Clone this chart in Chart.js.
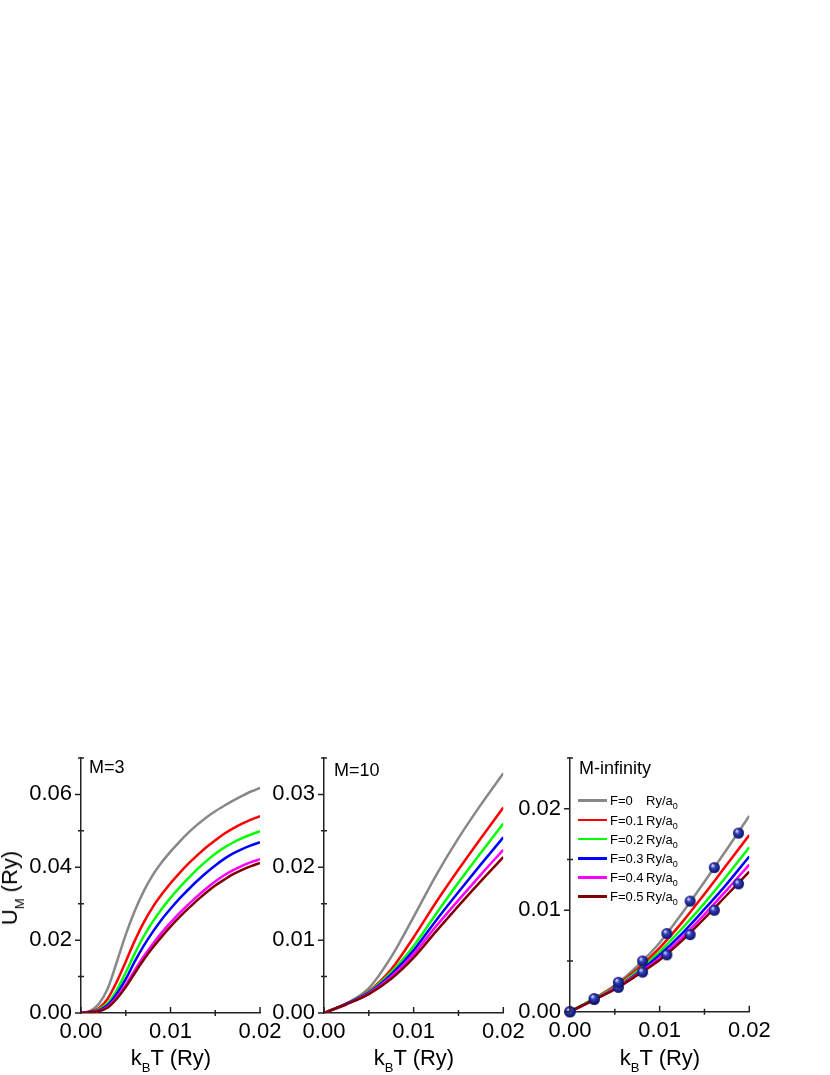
<!DOCTYPE html>
<html>
<head>
<meta charset="utf-8">
<script src="https://cdn.jsdelivr.net/npm/chart.js@4"></script>
<style>
  body { margin: 0; background: #fff; width: 830px; height: 1075px; position: relative; overflow: hidden;
         font-family: "Liberation Sans", Arial, sans-serif; color: #000; }
  canvas { position: absolute; top: 730px; }
  .lbl { position: absolute; line-height: 1; white-space: nowrap; }
  .lbl sub { vertical-align: baseline; position: relative; }
  .panel { font-size: 18px; }
  .xt { font-size: 22px; top: 1047px; transform: translateX(-50%); }
  .xt sub, .yt sub { font-size: 13px; top: 7px; }
  .yt { font-size: 22px; left: 10px; top: 888px; transform: translate(-50%, -50%) rotate(-90deg); }
  .leg { font-size: 13px; }
  .leg .f { display: inline-block; width: 36px; }
  .leg sub { font-size: 9px; top: 4px; }
  .swatch { position: absolute; width: 29px; height: 2.5px; }
</style>
</head>
<body>
<canvas id="m3" width="300" height="345" style="left:0px"></canvas>
<canvas id="m10" width="300" height="345" style="left:250px"></canvas>
<canvas id="minf" width="330" height="345" style="left:500px"></canvas>

<div class="lbl panel" style="left:89px; top:758px">M=3</div>
<div class="lbl panel" style="left:334px; top:761px">M=10</div>
<div class="lbl panel" style="left:579px; top:759px">M-infinity</div>

<div class="lbl yt">U<sub>M</sub> (Ry)</div>
<div class="lbl xt" style="left:171px">k<sub>B</sub>T (Ry)</div>
<div class="lbl xt" style="left:414px">k<sub>B</sub>T (Ry)</div>
<div class="lbl xt" style="left:660px">k<sub>B</sub>T (Ry)</div>

<div id="legend"></div>

<script>
const fields = ["F=0", "F=0.1", "F=0.2", "F=0.3", "F=0.4", "F=0.5"];
const unit = "Ry/a";
const colors = ["#888888", "#ff0000", "#00ff00", "#0000ff", "#ff00ff", "#800000"];

// M=3
const xM3 = [0, 0.001, 0.002, 0.003, 0.004, 0.005, 0.006, 0.007, 0.008, 0.009, 0.010,
             0.011, 0.012, 0.013, 0.014, 0.015, 0.016, 0.017, 0.018, 0.019, 0.020];
const m3F0 = [0, 0.0005, 0.0025, 0.0068, 0.0140, 0.0215, 0.0280, 0.0334, 0.0378, 0.0413, 0.0443,
              0.0470, 0.0495, 0.0517, 0.0537, 0.0554, 0.0569, 0.0583, 0.0596, 0.0608, 0.0618];
const m3F1 = [0, 0.0004, 0.0013, 0.0040, 0.0086, 0.0141, 0.0198, 0.0248, 0.0290, 0.0325, 0.0356,
              0.0384, 0.0410, 0.0433, 0.0455, 0.0474, 0.0492, 0.0507, 0.0520, 0.0531, 0.0540];
const m3F2 = [0, 0.0003, 0.0010, 0.0027, 0.0063, 0.0111, 0.0163, 0.0210, 0.0250, 0.0285, 0.0316,
              0.0344, 0.0370, 0.0395, 0.0417, 0.0437, 0.0454, 0.0468, 0.0480, 0.0490, 0.0499];
const m3F3 = [0, 0.0003, 0.0008, 0.0022, 0.0053, 0.0093, 0.0141, 0.0184, 0.0222, 0.0256, 0.0286,
              0.0314, 0.0339, 0.0363, 0.0385, 0.0405, 0.0423, 0.0438, 0.0450, 0.0460, 0.0469];
const m3F4 = [0, 0.0002, 0.0006, 0.0017, 0.0043, 0.0077, 0.0117, 0.0155, 0.0189, 0.0220, 0.0248,
              0.0274, 0.0298, 0.0321, 0.0342, 0.0361, 0.0378, 0.0392, 0.0404, 0.0414, 0.0422];
const m3F5 = [0, 0.0002, 0.0005, 0.0015, 0.0039, 0.0071, 0.0109, 0.0146, 0.0179, 0.0209, 0.0237,
              0.0263, 0.0287, 0.0310, 0.0331, 0.0350, 0.0366, 0.0381, 0.0393, 0.0403, 0.0412];

// M=10
const xM10 = [0, 0.0025, 0.005, 0.0075, 0.010, 0.0125, 0.015, 0.0175, 0.020];
const m10F0 = [0, 0.0013, 0.0034, 0.0077, 0.0132, 0.0189, 0.0240, 0.0286, 0.0329];
const m10F1 = [0, 0.0013, 0.0030, 0.0060, 0.0104, 0.0152, 0.0197, 0.0240, 0.0282];
const m10F2 = [0, 0.0013, 0.0029, 0.0056, 0.0092, 0.0136, 0.0179, 0.0220, 0.0260];
const m10F3 = [0, 0.0013, 0.0028, 0.0053, 0.0086, 0.0127, 0.0166, 0.0204, 0.0241];
const m10F4 = [0, 0.0012, 0.0027, 0.0050, 0.0081, 0.0119, 0.0155, 0.0190, 0.0224];
const m10F5 = [0, 0.0012, 0.0026, 0.0047, 0.0076, 0.0112, 0.0147, 0.0181, 0.0214];

// M-infinity
const xMinf = [0, 0.0025, 0.005, 0.0075, 0.010, 0.0125, 0.015, 0.0175, 0.020];
const infF0 = [0, 0.0012, 0.0026, 0.0045, 0.0068, 0.0097, 0.0128, 0.0160, 0.0193];
const infF1 = [0, 0.0012, 0.0025, 0.0042, 0.0063, 0.0088, 0.0116, 0.0145, 0.0174];
const infF2 = [0, 0.0012, 0.0024, 0.0040, 0.0059, 0.0082, 0.0107, 0.0134, 0.0162];
const infF3 = [0, 0.0011, 0.0023, 0.0038, 0.0056, 0.0077, 0.0101, 0.0126, 0.0153];
const infF4 = [0, 0.0011, 0.0023, 0.0037, 0.0053, 0.0073, 0.0096, 0.0120, 0.0145];
const infF5 = [0, 0.0011, 0.0022, 0.0036, 0.0051, 0.0070, 0.0092, 0.0115, 0.0138];

// dots on M-infinity panel
const xDots = [0, 0.0027, 0.0054, 0.0081, 0.0108, 0.0134, 0.0161, 0.0188];
const dotsF0 = [0, 0.0013, 0.0029, 0.0050, 0.0077, 0.0109, 0.0142, 0.0176];
const dotsF5 = [0, 0.0012, 0.0024, 0.0039, 0.0056, 0.0076, 0.0100, 0.0126];

const axisColor = "#222";
Chart.defaults.font.family = "'Liberation Sans', Arial, sans-serif";
Chart.defaults.color = "#000";

function isMajor(v, step) {
  const k = v / step;
  return Math.abs(k - Math.round(k)) < 1e-6;
}

function sphere(r) {
  const c = document.createElement("canvas");
  c.width = c.height = Math.ceil(r * 2 + 2);
  const g = c.getContext("2d");
  const cx = c.width / 2;
  const grad = g.createRadialGradient(cx - r * 0.35, cx - r * 0.4, r * 0.1, cx, cx, r);
  grad.addColorStop(0, "#d0d4ff");
  grad.addColorStop(0.35, "#3540bb");
  grad.addColorStop(1, "#0b1060");
  g.fillStyle = grad;
  g.beginPath();
  g.arc(cx, cx, r, 0, Math.PI * 2);
  g.fill();
  return c;
}

// minor ticks cross the axis, major ticks: y outward, x inward
const tickMarks = {
  id: "tickMarks",
  afterDraw(chart) {
    const ctx = chart.ctx;
    const { left, bottom } = chart.chartArea;
    ctx.save();
    ctx.strokeStyle = axisColor;
    ctx.lineWidth = 1.5;
    ctx.beginPath();
    chart.scales.x.ticks.forEach((t) => {
      const px = chart.scales.x.getPixelForValue(t.value);
      if (t.label !== "") { ctx.moveTo(px, bottom); ctx.lineTo(px, bottom - 6); }
      else { ctx.moveTo(px, bottom - 3); ctx.lineTo(px, bottom + 3); }
    });
    chart.scales.y.ticks.forEach((t) => {
      const py = chart.scales.y.getPixelForValue(t.value);
      if (t.label !== "") { ctx.moveTo(left - 6, py); ctx.lineTo(left, py); }
      else { ctx.moveTo(left - 3, py); ctx.lineTo(left + 3, py); }
    });
    ctx.stroke();
    ctx.restore();
  },
};

function lineSet(xs, ys, i) {
  return {
    label: fields[i],
    data: xs.map((x, j) => ({ x: x, y: ys[j] })),
    borderColor: colors[i],
    borderWidth: 2.5,
    pointRadius: 0,
    cubicInterpolationMode: "monotone",
    order: 6 - i,
  };
}

function makePanel(id, datasets, yMax, yMajor, yWidth, padRight, xHeight) {
  return new Chart(document.getElementById(id), {
    type: "line",
    data: { datasets: datasets },
    options: {
      responsive: false,
      animation: false,
      events: [],
      layout: { padding: { top: 28, right: padRight, left: 0, bottom: 0 } },
      plugins: { legend: { display: false }, tooltip: { enabled: false } },
      scales: {
        x: {
          type: "linear",
          min: 0,
          max: 0.02,
          grid: { display: false, drawTicks: false },
          border: { display: true, color: axisColor, width: 1.5 },
          ticks: {
            stepSize: 0.005,
            autoSkip: false,
            maxRotation: 0,
            minRotation: 0,
            padding: 6,
            font: { size: 22 },
            callback: (v) => (isMajor(v, 0.01) ? v.toFixed(2) : ""),
          },
          afterFit: (s) => { s.height = xHeight; },
        },
        y: {
          type: "linear",
          min: 0,
          max: yMax,
          grid: { display: false, drawTicks: false },
          border: { display: true, color: axisColor, width: 1.5 },
          ticks: {
            stepSize: yMajor / 2,
            autoSkip: false,
            padding: 9,
            font: { size: 22 },
            callback: (v) => (isMajor(v, yMajor) ? v.toFixed(2) : ""),
          },
          afterFit: (s) => { s.width = yWidth; },
        },
      },
    },
    plugins: [tickMarks],
  });
}

const m3Sets = [m3F0, m3F1, m3F2, m3F3, m3F4, m3F5].map((ys, i) => lineSet(xM3, ys, i));
const m10Sets = [m10F0, m10F1, m10F2, m10F3, m10F4, m10F5].map((ys, i) => lineSet(xM10, ys, i));
const infSets = [infF0, infF1, infF2, infF3, infF4, infF5].map((ys, i) => lineSet(xMinf, ys, i));

const ball = sphere(5.5);
[dotsF0, dotsF5].forEach((ys) => {
  infSets.push({
    type: "scatter",
    data: xDots.map((x, j) => ({ x: x, y: ys[j] })),
    pointStyle: ball,
    showLine: false,
    clip: false,
    order: 0,
  });
});

makePanel("m3", m3Sets, 0.07, 0.02, 81, 40, 62);
makePanel("m10", m10Sets, 0.035, 0.01, 74, 46.7, 62);
makePanel("minf", infSets, 0.025, 0.01, 70, 80.7, 63.3);

// legend of the M-infinity panel
const legend = document.getElementById("legend");
fields.forEach((f, i) => {
  const cy = 800.7 + i * 19.2;
  const sw = document.createElement("div");
  sw.className = "swatch";
  sw.style.left = "578px";
  sw.style.top = (cy - 1.25) + "px";
  sw.style.background = colors[i];
  legend.appendChild(sw);
  const t = document.createElement("div");
  t.className = "lbl leg";
  t.style.left = "610px";
  t.style.top = (cy - 6.4) + "px";
  t.innerHTML = `<span class="f">${f}</span>${unit}<sub>0</sub>`;
  legend.appendChild(t);
});
</script>
</body>
</html>
